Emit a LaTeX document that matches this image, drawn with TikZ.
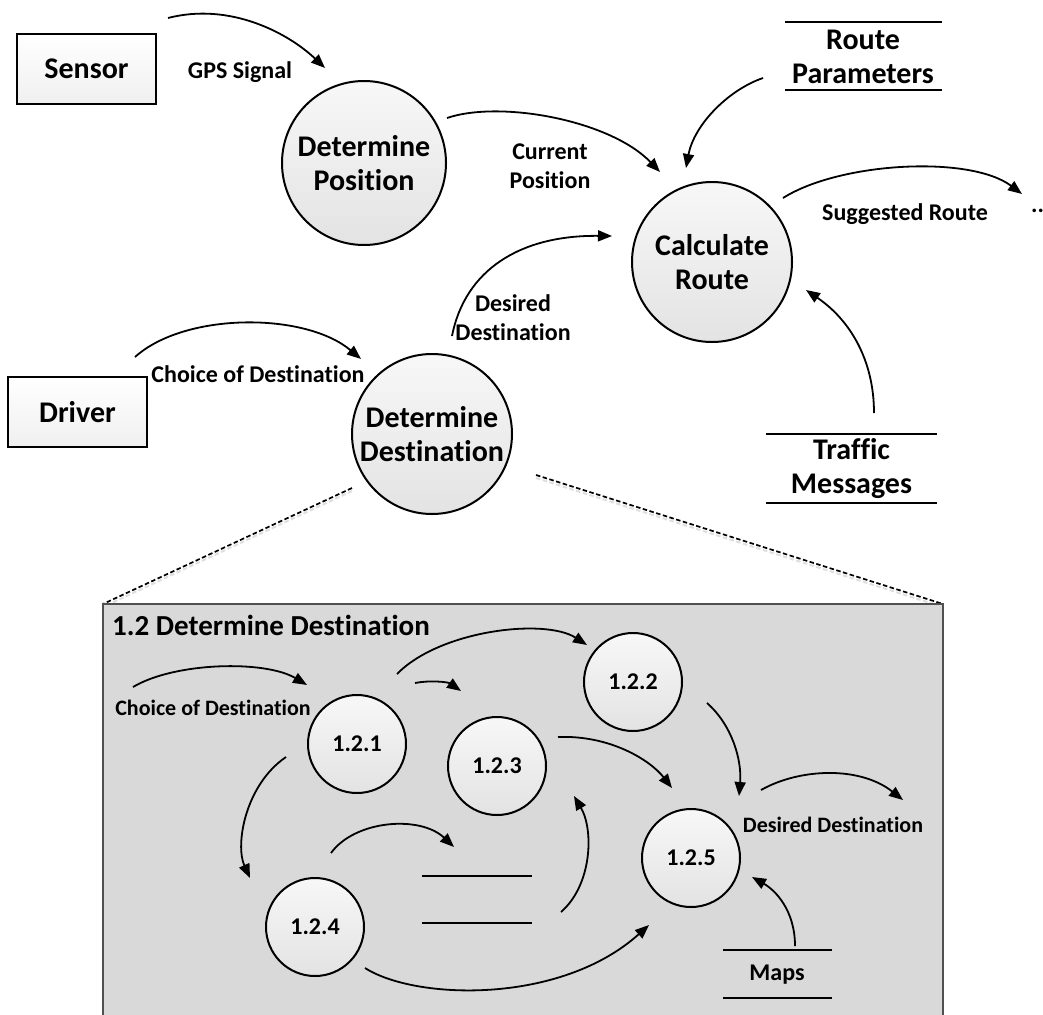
\documentclass[tikz,border=0pt]{standalone}
\usepackage{fontspec}
\setmainfont{Carlito}[Ligatures=NoCommon]
\usetikzlibrary{arrows.meta,shadings}
\definecolor{boxfill}{RGB}{217,217,217}
\definecolor{boxedge}{RGB}{80,80,80}
\begin{document}
\begin{tikzpicture}[x=1pt,y=-1pt,
  font=\bfseries,
  big/.style={font=\fontsize{30}{34}\selectfont\bfseries},
  proc/.style={circle,draw=black,line width=2pt,inner sep=0pt,top color=gray!6,bottom color=gray!22,align=center,big},
  sub/.style={circle,draw=black,line width=2pt,inner sep=0pt,minimum size=98pt,top color=gray!6,bottom color=gray!22,font=\fontsize{24}{28}\selectfont\bfseries},
  entity/.style={draw=black,line width=1.6pt,top color=white,bottom color=gray!12,minimum width=139pt,minimum height=70pt,inner sep=0pt,big},
  store/.style={align=center,inner sep=0pt,big},
  storeline/.style={line width=2pt},
  lbl/.style={align=center,inner sep=0pt,font=\fontsize{24}{29}\selectfont\bfseries},
  ilbl/.style={align=center,inner sep=0pt,font=\fontsize{22}{26}\selectfont\bfseries},
  flow/.style={line width=1.8pt,-{Triangle[length=14pt,width=11pt]}},
  zoomline/.style={line width=1.7pt,dash pattern=on 4.5pt off 2.5pt},
  zoomshadow/.style={line width=2pt,gray!25,dash pattern=on 4.5pt off 2.5pt},
]
\clip (0,0) rectangle (1043,1014);
\fill[white] (0,0) rectangle (1043,1014);

% ---------- upper level ----------
\node[entity] (sensor) at (86.5,69) {Sensor};
\node[entity] (driver) at (77.5,412) {Driver};

\node[proc,minimum size=164pt] (detpos) at (364,163) {Determine\\Position};
\node[proc,minimum size=160pt] (calc) at (712,262) {Calculate\\Route};
\node[proc,minimum size=160pt] (detdest) at (432,434) {Determine\\Destination};

\node[store] (routepar) at (863,57) {Route\\Parameters};
\draw[storeline] (785,22) -- (942,22);
\draw[storeline] (785,90) -- (942,90);

\node[store] (traffic) at (851.5,469) {Traffic\\Messages};
\draw[storeline] (766,434) -- (937,434);
\draw[storeline] (766,503) -- (937,503);

% free ends of the upper flows
\coordinate (gpsS) at (168,18);   \coordinate (gpsE) at (325,68);
\coordinate (curS) at (447,118);  \coordinate (curE) at (660,172);
\coordinate (rpS) at (763,78);    \coordinate (rpE) at (686,168);
\coordinate (sugS) at (783,198);  \coordinate (sugE) at (1022,194);
\coordinate (desS) at (452,336);  \coordinate (desE) at (612,236);
\coordinate (choS) at (135,357);  \coordinate (choE) at (361,359);
\coordinate (trS) at (874,413);   \coordinate (trE) at (806,290);

\draw[flow] (gpsS) .. controls (230,2) and (288,33) .. (gpsE);
\draw[flow] (curS) .. controls (500,100) and (610,120) .. (curE);
\draw[flow] (rpS) .. controls (728,90) and (694,125) .. (rpE);
\draw[flow] (sugS) .. controls (840,162) and (970,155) .. (sugE);
\draw[flow] (desS) .. controls (465,270) and (520,235) .. (desE);
\draw[flow] (choS) .. controls (185,312) and (305,312) .. (choE);
\draw[flow] (trS) .. controls (874,360) and (850,320) .. (trE);

\node[lbl] (gpslbl) at (240,72) {GPS Signal};
\node[lbl] (curlbl) at (550,166) {Current\\Position};
\node[lbl] (suglbl) at (905,214) {Suggested Route};
\node[lbl,anchor=base west] (dots) at (1031,212) {...};
\node[lbl] (deslbl) at (513,318) {Desired\\Destination};
\node[lbl] (cholbl) at (258,374) {Choice of Destination};

% ---------- zoom connectors ----------
\coordinate (zL) at (103,604);
\coordinate (zR) at (943,604);
\coordinate (ddL) at (352,488);
\coordinate (ddR) at (536,475);
\draw[zoomshadow] ([shift={(0,3)}]ddL) -- ([shift={(0,3)}]zL);
\draw[zoomshadow] ([shift={(0,3)}]ddR) -- ([shift={(0,3)}]zR);
\draw[zoomline] (ddL) -- (zL);
\draw[zoomline] (ddR) -- (zR);

% ---------- lower level box ----------
\draw[fill=boxfill,draw=boxedge,line width=2.2pt] (103,604) rectangle (943,1030);
\node[anchor=west,inner sep=0pt,font=\fontsize{29}{32}\selectfont\bfseries] (title) at (112,625) {1.2 Determine Destination};

\node[sub] (p1) at (357,744) {1.2.1};
\node[sub] (p2) at (633,682) {1.2.2};
\node[sub] (p3) at (497,766) {1.2.3};
\node[sub] (p4) at (315,927) {1.2.4};
\node[sub] (p5) at (691,858) {1.2.5};

\draw[storeline] (422,876) -- (532,876);
\draw[storeline] (422,923) -- (532,923);

\node[inner sep=0pt,font=\fontsize{24}{28}\selectfont\bfseries] (maps) at (777,975) {Maps};
\draw[storeline] (723,950) -- (832,950);
\draw[storeline] (723,998) -- (832,998);

% free ends of inner flows
\coordinate (aS) at (133,687);  \coordinate (aE) at (307,685);
\coordinate (bS) at (397,674);  \coordinate (bE) at (587,645);
\coordinate (cS) at (415,683);  \coordinate (cE) at (461,691);
\coordinate (dS) at (286,757);  \coordinate (dE) at (250,878);
\coordinate (eS) at (331,853);  \coordinate (eE) at (454,847);
\coordinate (fS) at (561,912);  \coordinate (fE) at (574,796);
\coordinate (gS) at (558,737);  \coordinate (gE) at (672,788);
\coordinate (hS) at (707,703);  \coordinate (hE) at (739,796);
\coordinate (iS) at (365,968);  \coordinate (iE) at (649,925);
\coordinate (jS) at (761,790);  \coordinate (jE) at (903,800);
\coordinate (kS) at (795,946);  \coordinate (kE) at (752,877);

\draw[flow] (aS) .. controls (175,662) and (265,660) .. (aE);
\draw[flow] (bS) .. controls (440,630) and (545,618) .. (bE);
\draw[flow] (cS) .. controls (430,680) and (448,682) .. (cE);
\draw[flow] (dS) .. controls (245,785) and (235,845) .. (dE);
\draw[flow] (eS) .. controls (355,820) and (420,815) .. (eE);
\draw[flow] (fS) .. controls (592,885) and (594,830) .. (fE);
\draw[flow] (gS) .. controls (610,735) and (650,760) .. (gE);
\draw[flow] (hS) .. controls (732,725) and (742,760) .. (hE);
\draw[flow] (iS) .. controls (415,1000) and (560,1005) .. (iE);
\draw[flow] (jS) .. controls (800,768) and (860,766) .. (jE);
\draw[flow] (kS) .. controls (795,910) and (775,890) .. (kE);

\node[ilbl] (ichoice) at (213,708) {Choice of Destination};
\node[ilbl] (idesired) at (833,825) {Desired Destination};
\end{tikzpicture}
\end{document}
